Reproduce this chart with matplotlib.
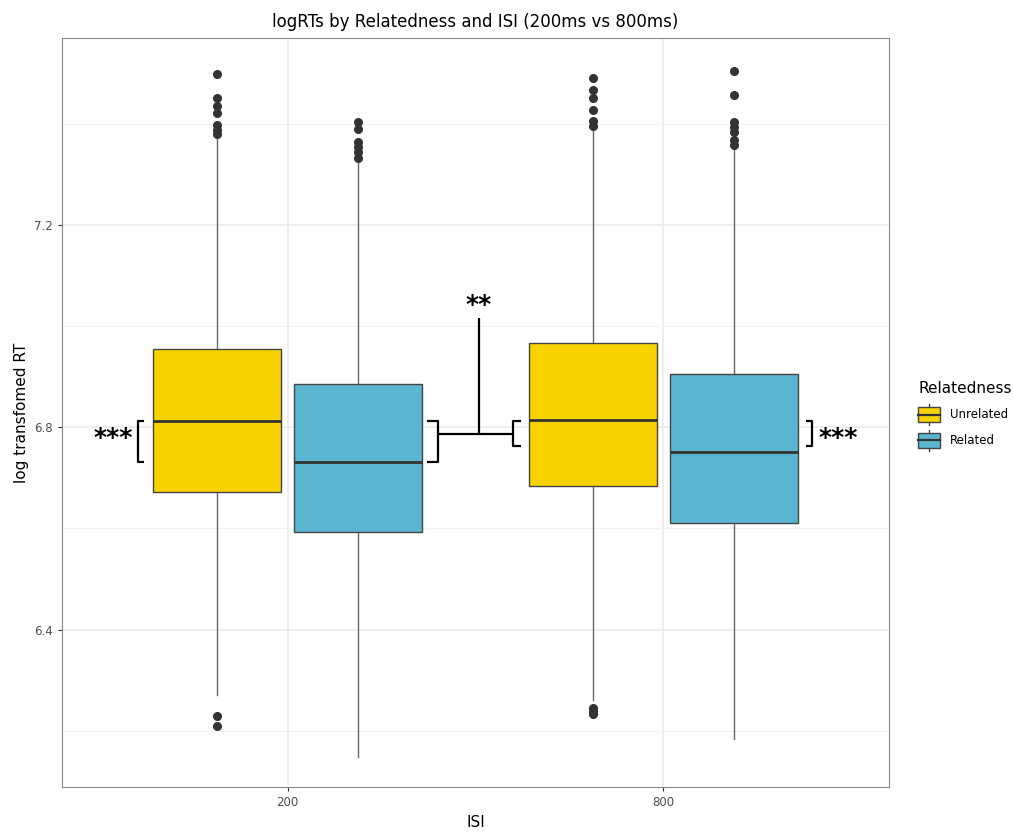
import matplotlib.pyplot as plt
from matplotlib.patches import Patch, Rectangle
from matplotlib.lines import Line2D
from matplotlib.legend_handler import HandlerBase

# data
isi_labels = ['200', '800']
groups = ['Unrelated', 'Related']
colors = ['#F9D300', '#5BB6D2']

# per box: [200 Unrelated, 200 Related, 800 Unrelated, 800 Related]
q1 = [6.672, 6.592, 6.684, 6.611]
med = [6.812, 6.731, 6.814, 6.751]
q3 = [6.954, 6.886, 6.967, 6.905]
whislo = [6.270, 6.148, 6.260, 6.183]
whishi = [7.373, 7.328, 7.391, 7.347]
fliers = [
    [7.498, 7.451, 7.435, 7.420, 7.397, 7.387, 7.379, 6.229, 6.209],
    [7.403, 7.390, 7.364, 7.354, 7.344, 7.331],
    [7.489, 7.466, 7.450, 7.426, 7.404, 7.396, 6.245, 6.239, 6.233],
    [7.503, 7.456, 7.403, 7.393, 7.384, 7.367, 7.357],
]

dodge = 0.1875
box_w = 0.34

fig = plt.figure(figsize=(10.13, 8.33), dpi=100)
ax = fig.add_axes([0.0612, 0.0552, 0.8164, 0.8992])

stats = []
positions = []
for i in range(4):
    stats.append(dict(q1=q1[i], med=med[i], q3=q3[i], whislo=whislo[i],
                      whishi=whishi[i], fliers=fliers[i]))
    positions.append(1 + i // 2 + (dodge if i % 2 else -dodge))

bp = ax.bxp(stats, positions=positions, widths=box_w, patch_artist=True,
            showcaps=False, manage_ticks=False,
            boxprops=dict(edgecolor='#444444', linewidth=1.0),
            whiskerprops=dict(color='#666666', linewidth=1.0),
            medianprops=dict(color='#333333', linewidth=2.0),
            flierprops=dict(marker='o', markerfacecolor='#333333',
                            markeredgecolor='#333333', markersize=5.5))
for i, b in enumerate(bp['boxes']):
    b.set_facecolor(colors[i % 2])
    b.set_zorder(3)
for m in bp['medians']:
    m.set_zorder(4)

ax.set_xlim(0.4, 2.6)
ax.set_ylim(6.089, 7.569)
ax.set_xticks([1, 2])
ax.set_xticklabels(isi_labels)
ax.set_yticks([6.4, 6.8, 7.2])
ax.set_yticklabels(['6.4', '6.8', '7.2'])
ax.set_yticks([6.2, 6.6, 7.0, 7.4], minor=True)
ax.grid(True, which='major', color='#EBEBEB', linewidth=1.2, zorder=0)
ax.grid(True, which='minor', axis='y', color='#F2F2F2', linewidth=0.8, zorder=0)
ax.tick_params(which='minor', length=0)
ax.tick_params(which='major', colors='#333333', labelcolor='#4D4D4D',
               labelsize=8.5, length=3, width=0.8)
ax.set_axisbelow(True)
for s in ax.spines.values():
    s.set_color('#888888')
    s.set_linewidth(0.8)

ax.set_title('logRTs by Relatedness and ISI (200ms vs 800ms)', fontsize=12, pad=8)
ax.set_xlabel('ISI', fontsize=11)
ax.set_ylabel('log transfomed RT', fontsize=11)

# significance brackets
k = dict(color='black', linewidth=1.6, solid_capstyle='butt', zorder=5)
ax.plot([0.617, 0.601, 0.601, 0.617], [med[0], med[0], med[1], med[1]], **k)
ax.plot([1.372, 1.399, 1.399, 1.372], [med[0], med[0], med[1], med[1]], **k)
ax.plot([1.620, 1.601, 1.601, 1.620], [6.812, 6.812, 6.763, 6.763], **k)
ax.plot([2.378, 2.396, 2.396, 2.378], [6.812, 6.812, 6.763, 6.763], **k)
ax.plot([1.399, 1.601], [6.786, 6.786], **k)
ax.plot([1.508, 1.508], [6.786, 7.016], **k)

star = dict(ha='center', va='center', fontsize=18, fontweight='bold')
ax.text(0.535, 6.778, '***', **star)
ax.text(1.508, 7.042, '**', **star)
ax.text(2.465, 6.778, '***', **star)


# boxplot-style legend key
class BoxKey(HandlerBase):
    def create_artists(self, legend, orig, xd, yd, w, h, fs, trans):
        x0, y0 = -xd, -yd
        cx = x0 + w / 2
        vline = Line2D([cx, cx], [y0 - 0.2 * h, y0 + 1.2 * h], color='#444444',
                       lw=1.0, transform=trans)
        rect = Rectangle((x0, y0), w, h, facecolor=orig.get_facecolor(),
                         edgecolor='#444444', lw=1.0, transform=trans)
        mline = Line2D([x0, x0 + w], [y0 + h / 2, y0 + h / 2], color='#333333',
                       lw=1.6, transform=trans)
        return [vline, rect, mline]


handles = [Patch(facecolor=colors[i], edgecolor='#444444') for i in range(2)]
leg = fig.legend(handles, groups, title='Relatedness', loc='upper left',
                 bbox_to_anchor=(0.896, 0.555), frameon=False, fontsize=8.5,
                 title_fontsize=11, handlelength=1.8, handleheight=1.6,
                 labelspacing=0.9, handletextpad=0.9,
                 handler_map={Patch: BoxKey()})
leg._legend_box.align = 'left'

fig.savefig('out.png', dpi=100)
